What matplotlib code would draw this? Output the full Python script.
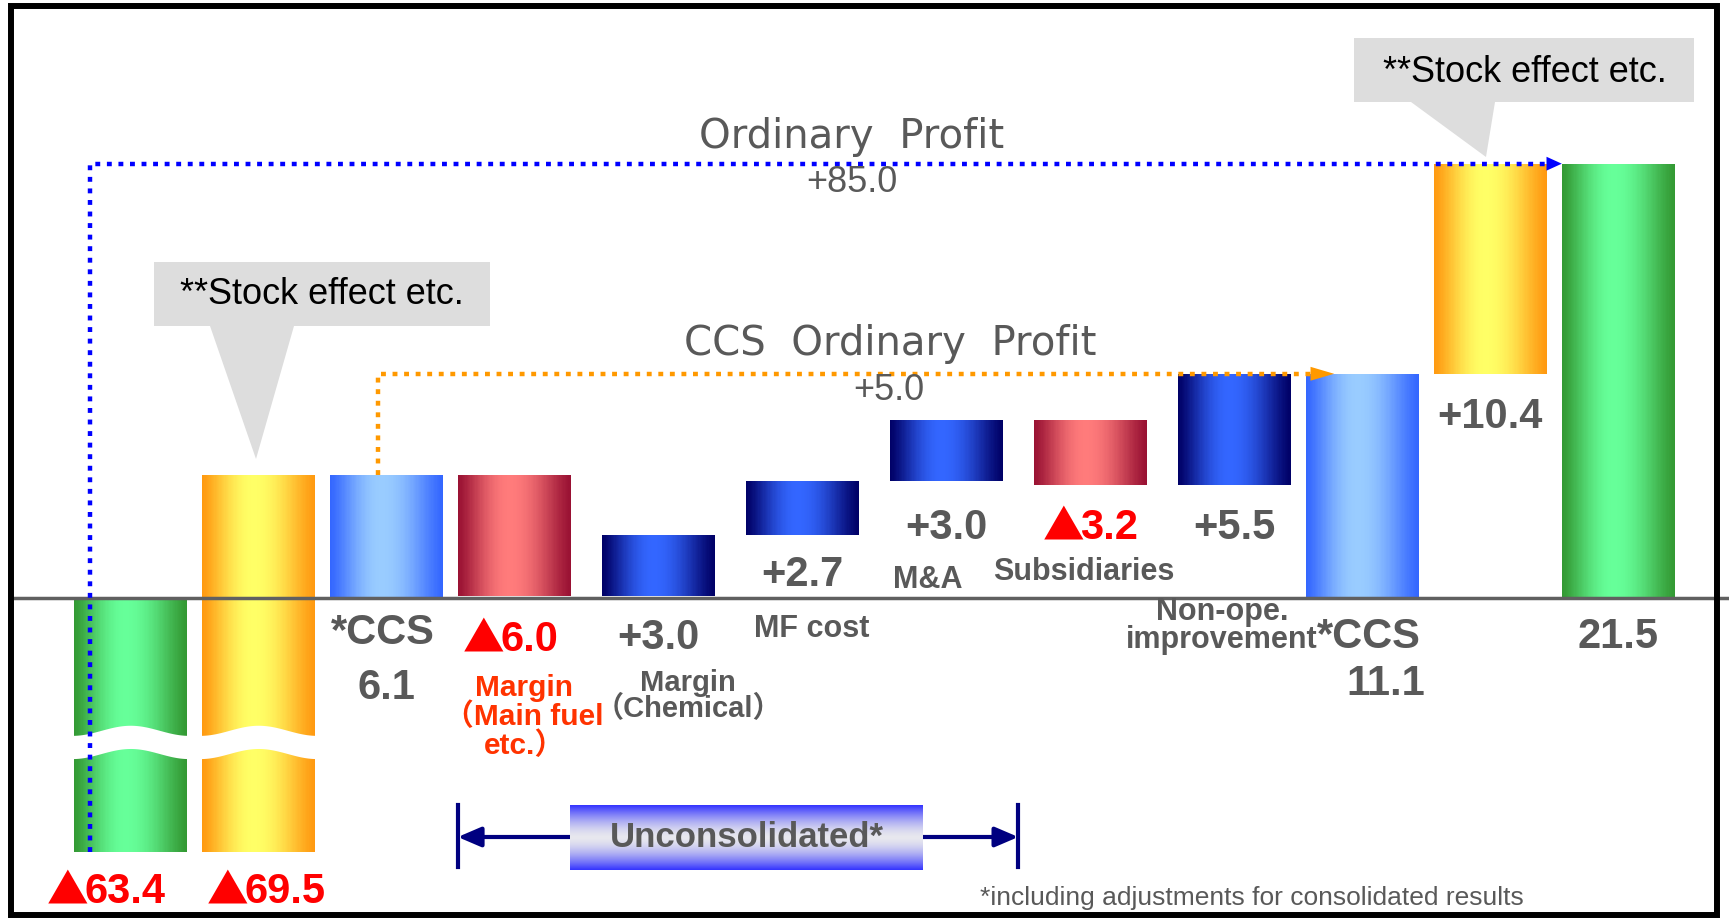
import numpy as np
import matplotlib
matplotlib.use("Agg")
import matplotlib.pyplot as plt
from matplotlib.patches import Polygon, Rectangle
from matplotlib.colors import to_rgb
from matplotlib.transforms import offset_copy

# ---- values (ordinary profit bridge) ----
op_prev = -63.4            # ordinary profit, previous period
stock_prev = -69.5         # stock effect etc., previous period
ccs_prev = 6.1             # CCS ordinary profit, previous period
factor_values = [-6.0, 3.0, 2.7, 3.0, -3.2, 5.5]
factor_names = ["Margin\n（Main fuel\netc.）", "Margin\n（Chemical）", "MF cost",
                "M&A", "Subsidiaries", "Non-ope.\nimprovement"]
ccs_curr = 11.1
stock_curr = 10.4
op_curr = 21.5
op_change = 85.0
ccs_change = 5.0

plt.rcParams['font.family'] = ['Liberation Sans', 'Noto Sans CJK JP', 'DejaVu Sans']

GRAY = '#595959'
RED = '#FF0000'
W_PX, H_PX = 1729, 919
ZERO_PX = 598.0
PX_UNIT = 20.2       # pixels per 1.0 on the y axis
X0_PX, STEP_PX = 130.3, 128.0

# broken axis: values below -KINK are squeezed
KINK = 6.3
SQUEEZE = 0.11


def fwd(y):
    y = np.asarray(y, float)
    return np.where(y >= -KINK, y, -KINK + (y + KINK) * SQUEEZE)


def inv(y):
    y = np.asarray(y, float)
    return np.where(y >= -KINK, y, -KINK + (y + KINK) / SQUEEZE)


def ay(px):
    return 1 - px / H_PX


def fx(px):
    return px / W_PX


# bar spans
bottoms = [0, op_prev, 0]
tops = [op_prev, ccs_prev, ccs_prev]
level = ccs_prev
for v in factor_values:
    bottoms.append(level)
    tops.append(level + v)
    level += v
bottoms += [0, ccs_curr, 0]
tops += [ccs_curr, op_curr, op_curr]

styles = ['green', 'orange', 'light', 'red', 'navy', 'navy', 'navy', 'red', 'navy',
          'light', 'orange', 'green']
palette = {
    'green': ('#339933', '#66FF99'),
    'orange': ('#FF9910', '#FFFF66'),
    'light': ('#3366FF', '#99CCFF'),
    'red': ('#991133', '#FF7B7B'),
    'navy': ('#000066', '#3366FF'),
}

gaps = np.array([1, 1, 1, 1.125, 1.125, 1.125, 1.125, 1.125, 1, 1, 1])
x = np.concatenate([[0], np.cumsum(gaps)])
W = 0.883

fig = plt.figure(figsize=(17.29, 9.19), dpi=100)
ax = fig.add_axes([0, 0, 1, 1])
ax.set_yscale('function', functions=(fwd, inv))
ax.set_xlim(-X0_PX / STEP_PX, (W_PX - X0_PX) / STEP_PX)
ax.set_ylim(float(inv(-(H_PX - ZERO_PX) / PX_UNIT)), ZERO_PX / PX_UNIT)
ax.axis('off')


def grad_bar(xc, lo, hi, edge, mid, n=90, peak=0.46):
    t = (np.arange(n) + 0.5) / n
    f = np.where(t < peak, np.sin(np.pi / 2 * t / peak),
                 np.sin(np.pi / 2 * (1 - t) / (1 - peak)))
    f = f ** 1.3
    c0, c1 = np.array(to_rgb(edge)), np.array(to_rgb(mid))
    cols = c0 + (c1 - c0) * f[:, None]
    xs = xc - W / 2 + t * W
    ax.bar(xs, hi - lo, width=W / n * 1.05, bottom=lo, color=cols,
           linewidth=0, zorder=2)


for i in range(len(x)):
    lo, hi = min(bottoms[i], tops[i]), max(bottoms[i], tops[i])
    grad_bar(x[i], lo, hi, *palette[styles[i]])

# wavy break on the two long negative bars
tt = np.linspace(0, 1, 120)
for i in (0, 1):
    xs = x[i] - W / 2 * 1.03 + tt * W * 1.03
    upper = -6.55 + 0.25 * np.cos(2 * np.pi * (tt - 0.5))
    lower = upper - 1.15
    ax.fill_between(xs, inv(lower), inv(upper), color='white', lw=0, zorder=3)

# zero line
ax.axhline(0, xmin=fx(10), xmax=1, color='#606060', lw=2.5, zorder=4)

# dotted bridges
dot = dict(lw=3.2, linestyle=(0, (1.1, 1.5)), dash_capstyle='butt')
xb = x[0] - 0.315
tip_b = x[11] - W / 2
ax.plot([xb, xb, tip_b - 0.1], [op_prev, op_curr, op_curr], color='#0000FF', zorder=5, **dot)
ax.annotate('', xy=(tip_b, op_curr), xytext=(tip_b - 0.4, op_curr),
            arrowprops=dict(arrowstyle='-|>,head_length=1.1,head_width=0.5',
                            mutation_scale=10, color='#0000FF', lw=0,
                            shrinkA=0, shrinkB=0), zorder=5)

xo = x[2] - 0.065
tip_o = x[9] - 0.22
ax.plot([xo, xo, tip_o - 0.17], [ccs_prev, ccs_curr, ccs_curr], color='#FF9900', zorder=5, **dot)
ax.annotate('', xy=(tip_o, ccs_curr), xytext=(tip_o - 0.5, ccs_curr),
            arrowprops=dict(arrowstyle='-|>,head_length=1.7,head_width=0.5',
                            mutation_scale=10, color='#FF9900', lw=0,
                            shrinkA=0, shrinkB=0), zorder=5)

tr = ax.get_xaxis_transform()
renderer = fig.canvas.get_renderer()


def label(xd, ypx, s, size=30, color=GRAY, weight='bold', **kw):
    ax.text(xd, ay(ypx), s, transform=tr, ha='center', va='center', fontsize=size,
            color=color, fontweight=weight, zorder=6, **kw)


def value(xd, ypx, v, size=30):
    if v >= 0:
        label(xd, ypx, f"+{v:.1f}", size=size)
        return
    # red triangle drawn from a CJK font (bigger glyph), digits in Arial-like font
    base = ay(ypx + 0.27 * size * 100 / 72)
    tri = ax.text(xd, base, "▲", transform=tr, ha='right', va='baseline', fontsize=size,
                  color=RED, fontweight='bold', family='Noto Sans CJK JP', zorder=6)
    num = ax.text(xd, base, f"{abs(v):.1f}", transform=tr, ha='left', va='baseline',
                  fontsize=size, color=RED, fontweight='bold', zorder=6)
    w1 = tri.get_window_extent(renderer).width
    w2 = num.get_window_extent(renderer).width
    shift = (w1 - w2) / 2 - 2
    tri.set_transform(offset_copy(tr, fig=fig, x=shift + 4, units='dots'))
    num.set_transform(offset_copy(tr, fig=fig, x=shift, units='dots'))


def dxp(px):
    return (px - X0_PX) / STEP_PX


# titles of the bridges
label(dxp(852), 137, "Ordinary  Profit", size=29, weight='normal', family='DejaVu Sans')
label(dxp(852), 182, f"+{op_change:.1f}", size=26, weight='normal')
label(dxp(890), 344, "CCS  Ordinary  Profit", size=29, weight='normal', family='DejaVu Sans')
label(dxp(889), 391, f"+{ccs_change:.1f}", size=26, weight='normal')

# bar values
value(x[0] - 0.19, 892, op_prev)
value(x[1] + 0.06, 892, stock_prev)
label(x[2] - 0.03, 633, "*CCS")
label(x[2], 688, f"{ccs_prev:.1f}")

val_y = [640, 638, 575, 528, 528, 528]
val_dx = [-0.03, 0, 0, 0, 0, 0]
name_pos = [(0.076, 717), (0.232, 696), (0.07, 629), (-0.143, 580), (-0.05, 572), (-0.096, 626)]
name_ls = [1.0, 0.9, 1.0, 1.0, 1.0, 0.95]
for k, v in enumerate(factor_values):
    i = k + 3
    value(x[i] + val_dx[k], val_y[k], v)
    ddx, ny = name_pos[k]
    if k == 0:
        label(x[i] + ddx, ny, factor_names[k], size=21.5, color='#FF3300', linespacing=name_ls[k])
    else:
        label(x[i] + ddx, ny, factor_names[k], size=21 if k < 2 else 22, linespacing=name_ls[k])

label(x[9] + 0.05, 637, "*CCS")
label(x[9] + 0.18, 684, f"{ccs_curr:.1f}")
value(x[10], 417, stock_curr)
label(x[11], 637, f"{op_curr:.1f}")

# callouts
def callout(box, base, tip, text_xy):
    x0, y0, x1, y1 = box
    pts = [(x0, y0), (x1, y0), (x1, y1), (base[1], y1), tip, (base[0], y1), (x0, y1)]
    fig.patches.append(Polygon([(fx(a), ay(b)) for a, b in pts], closed=True,
                               transform=fig.transFigure, facecolor='#DDDDDD',
                               edgecolor='none', zorder=1))
    fig.text(fx(text_xy[0]), ay(text_xy[1]), "**Stock effect etc.", ha='center',
             va='center', fontsize=26, color='black')


callout((154, 262, 490, 326), (210, 294), (256, 459), (322, 295))
callout((1354, 38, 1694, 102), (1411, 1495), (1486, 157), (1525, 72))

# unconsolidated bracket
NAVY = '#000080'
xl = x[3] - W / 2
xr = (x[6] + x[7]) / 2
for xv in (xl, xr):
    ax.plot([xv, xv], [ay(805), ay(867)], transform=tr, color=NAVY, lw=3, zorder=5)
for a, b in ((dxp(570), xl), (dxp(923), xr)):
    ax.annotate('', xy=(b, ay(837)), xytext=(a, ay(837)), xycoords=tr, textcoords=tr,
                arrowprops=dict(arrowstyle='-|>,head_length=1.4,head_width=0.6',
                                mutation_scale=10, color=NAVY, lw=3,
                                shrinkA=0, shrinkB=0), zorder=5)

bax = fig.add_axes([fx(570), ay(870), fx(353), 65 / H_PX])
g = np.abs(np.linspace(-1, 1, 200))[:, None] ** 1.6
top_c, mid_c = np.array(to_rgb('#3333FF')), np.array(to_rgb('#E8E8EE'))
img = mid_c + (top_c - mid_c) * g[:, :, None]
bax.imshow(img, aspect='auto', extent=[0, 1, 0, 1], interpolation='bilinear')
bax.axis('off')
bax.text(0.5, 0.5, "Unconsolidated*", ha='center', va='center', fontsize=25,
         fontweight='bold', color=GRAY, transform=bax.transAxes)

# footnote
label(dxp(1252), 898, "*including adjustments for consolidated results", size=19,
      weight='normal')

# frame
fig.patches.append(Rectangle((fx(11), ay(915)), fx(1717 - 11), (915 - 6) / H_PX,
                             transform=fig.transFigure, fill=False,
                             edgecolor='black', lw=4.3, zorder=10))

fig.savefig("out.png", dpi=100)
plt.close(fig)
